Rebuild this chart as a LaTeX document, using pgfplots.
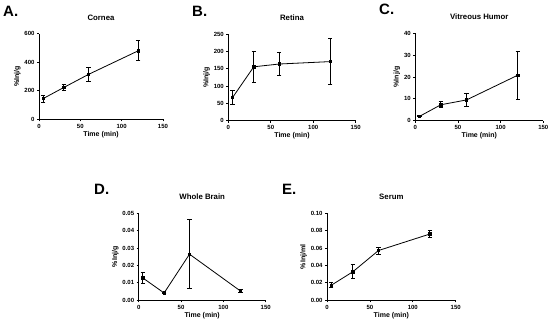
\documentclass[border=0pt]{standalone}
\usepackage{fontspec}
\setmainfont{Liberation Sans}
\usepackage{pgfplots}
\pgfplotsset{compat=1.18}
\pgfplotsset{
 panel/.style={
  scale only axis,
  axis x line*=bottom, axis y line*=left,
  axis line style={-, line width=0.9pt, black},
  xmin=0, xmax=150, xtick={0,50,100,150}, ymin=0,
  tick align=outside, tick pos=left,
  major tick length=2pt, tick style={black, line width=0.8pt},
  minor tick num=0,
  tick label style={font=\fontsize{6}{7}\selectfont\bfseries},
  xticklabel style={yshift=1pt},
  yticklabel style={xshift=1pt},
  /pgf/number format/assume math mode=true,
  scaled y ticks=false,
  xlabel={Time (min)},
  label style={font=\fontsize{7}{8}\selectfont\bfseries},
  xlabel style={yshift=4pt},
  ylabel style={yshift=-3pt},
  title style={font=\fontsize{7.8}{9}\selectfont\bfseries, yshift=4pt},
 },
 dat/.style={black, line width=0.8pt, mark=square*, mark size=1.2pt, mark options={solid, black},
  error bars/.cd, y dir=both, y explicit,
  error bar style={line width=1pt, black},
  error mark options={rotate=90, mark size=2.2pt, line width=1pt, black}},
}
\begin{document}
\begin{tikzpicture}
\path[use as bounding box] (0,0) rectangle (550pt,323pt);

% A. Cornea
\begin{axis}[panel, at={(39pt,203.7pt)}, anchor=south west, width=124pt, height=85.6pt,
  ymax=600, ytick={0,200,400,600}, title={Cornea}, ylabel={\%Inj/g}]
\addplot[dat] coordinates {(5,145) +- (0,25) (30,223) +- (0,20) (60,315) +- (0,50) (120,480) +- (0,70)};
\end{axis}

% B. Retina
\begin{axis}[panel, at={(228.3pt,202.3pt)}, anchor=south west, width=127.4pt, height=86.4pt,
  ymax=250, ytick={0,50,100,150,200,250}, title={Retina}, ylabel={\%Inj/g}]
\addplot[dat] coordinates {(5,67) +- (0,20) (30,156) +- (0,45) (60,164) +- (0,32) (120,171) +- (0,67)};
\end{axis}

% C. Vitreous Humor
\begin{axis}[panel, at={(415.3pt,202.3pt)}, anchor=south west, width=128pt, height=87.4pt,
  ymax=40, ytick={0,10,20,30,40}, title={Vitreous Humor}, ylabel={\%Inj/g}]
\addplot[dat] coordinates {(5,2.0) +- (0,0.3) (30,7.3) +- (0,1.3) (60,9.5) +- (0,2.8) (120,20.8) +- (0,11)};
\end{axis}

% D. Whole Brain
\begin{axis}[panel, at={(138.7pt,22.7pt)}, anchor=south west, width=127pt, height=87pt,
  ymax=0.05, ytick={0,0.01,0.02,0.03,0.04,0.05},
  yticklabel style={/pgf/number format/.cd, fixed, fixed zerofill, precision=2},
  title={Whole Brain}, ylabel={\%Inj/g}]
\addplot[dat] coordinates {(5,0.0128) +- (0,0.0033) (30,0.0042) +- (0,0.0004) (60,0.0265) +- (0,0.0198) (120,0.0054) +- (0,0.0008)};
\end{axis}

% E. Serum
\begin{axis}[panel, at={(327pt,22.7pt)}, anchor=south west, width=128.7pt, height=87pt,
  ymax=0.10, ytick={0,0.02,0.04,0.06,0.08,0.10},
  yticklabel style={/pgf/number format/.cd, fixed, fixed zerofill, precision=2},
  title={Serum}, ylabel={\%Inj/ml}]
\addplot[dat] coordinates {(5,0.0173) +- (0,0.0027) (30,0.0327) +- (0,0.008) (60,0.0572) +- (0,0.004) (120,0.0762) +- (0,0.0038)};
\end{axis}

\node[font=\fontsize{15}{16}\selectfont\bfseries, anchor=west, inner sep=0pt] at (3pt,312pt) {A.};
\node[font=\fontsize{15}{16}\selectfont\bfseries, anchor=west, inner sep=0pt] at (192pt,312pt) {B.};
\node[font=\fontsize{15}{16}\selectfont\bfseries, anchor=west, inner sep=0pt] at (379pt,314pt) {C.};
\node[font=\fontsize{15}{16}\selectfont\bfseries, anchor=west, inner sep=0pt] at (94pt,134pt) {D.};
\node[font=\fontsize{15}{16}\selectfont\bfseries, anchor=west, inner sep=0pt] at (282pt,134pt) {E.};
\end{tikzpicture}
\end{document}
